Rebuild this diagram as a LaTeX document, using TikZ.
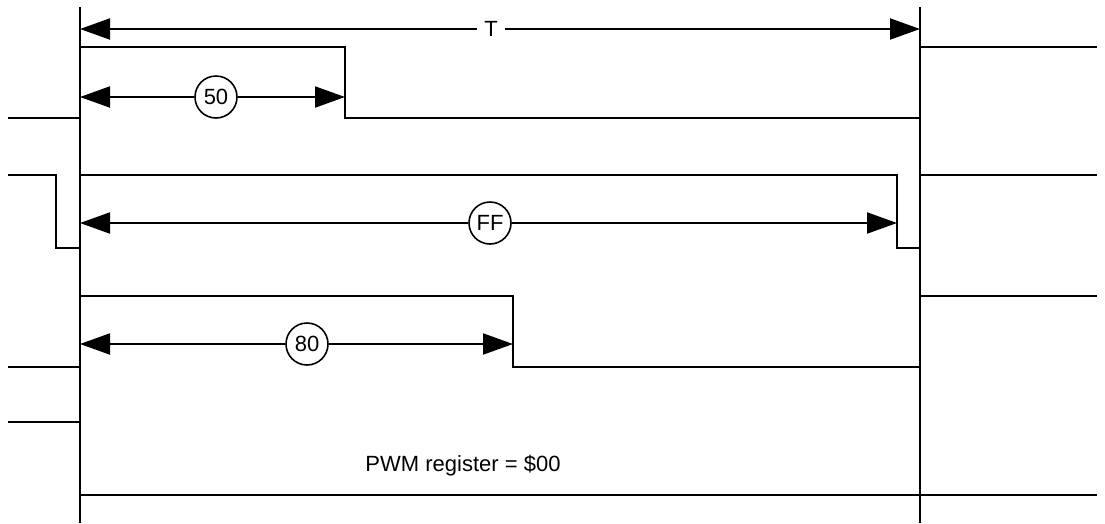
\documentclass[tikz,border=0pt]{standalone}
\usepackage{fontspec}
\setmainfont{Liberation Sans}
\usetikzlibrary{arrows.meta}
\begin{document}
\begin{tikzpicture}[x=1pt,y=-1pt,
  wave/.style={line width=2pt, line cap=butt, line join=miter},
  guide/.style={line width=2pt},
  dimarrow/.style={line width=2pt, -{Triangle[length=30pt,width=21pt]}},
  valbubble/.style={circle, draw, line width=1.6pt, fill=white, minimum size=42pt, inner sep=0pt, font=\fontsize{22}{26}\selectfont},
  plainlabel/.style={fill=white, inner sep=7pt, font=\fontsize{22}{26}\selectfont}]
\useasboundingbox (0,0) rectangle (1105,523);
% period guides
\coordinate (gLt) at (80,7);  \coordinate (gLb) at (80,523);
\coordinate (gRt) at (920,7); \coordinate (gRb) at (920,523);
\draw[guide] (gLt) -- (gLb);
\draw[guide] (gRt) -- (gRb);
% T arrow
\coordinate (tL) at (80,29); \coordinate (tR) at (920,29);
\node[plainlabel] (tlab) at (491,29) {T};
\draw[dimarrow] (tlab) -- (tL);
\draw[dimarrow] (tlab) -- (tR);
% row 1: 50
\draw[wave] (8,118) -- (80,118) -- (80,47) -- (345,47) -- (345,118) -- (920,118) -- (920,47) -- (1097,47);
\coordinate (a50L) at (80,97); \coordinate (a50R) at (345,97);
\node[valbubble] (b50) at (216,97) {50};
\draw[dimarrow] (b50) -- (a50L);
\draw[dimarrow] (b50) -- (a50R);
% row 2: FF
\draw[wave] (8,175) -- (56,175) -- (56,248) -- (80,248) -- (80,175) -- (897,175) -- (897,248) -- (920,248) -- (920,175) -- (1097,175);
\coordinate (aFFL) at (80,223); \coordinate (aFFR) at (897,223);
\node[valbubble] (bFF) at (490,223) {FF};
\draw[dimarrow] (bFF) -- (aFFL);
\draw[dimarrow] (bFF) -- (aFFR);
% row 3: 80
\draw[wave] (8,367) -- (80,367) -- (80,296) -- (513,296) -- (513,367) -- (920,367) -- (920,296) -- (1097,296);
\coordinate (a80L) at (80,344); \coordinate (a80R) at (513,344);
\node[valbubble] (b80) at (307,344) {80};
\draw[dimarrow] (b80) -- (a80L);
\draw[dimarrow] (b80) -- (a80R);
% row 4: 00
\draw[wave] (8,422) -- (80,422) -- (80,495) -- (1097,495);
\node[font=\fontsize{22}{26}\selectfont, inner sep=0pt] (pwm) at (463,466) {PWM register = \$00};
\end{tikzpicture}
\end{document}
